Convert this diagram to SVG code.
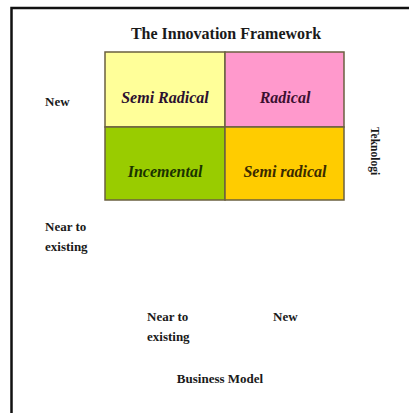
<svg xmlns="http://www.w3.org/2000/svg" width="409" height="413" viewBox="0 0 409 413">
<style>
.cell{stroke:#6b6040;stroke-width:1.5}
.cl{font-family:"Liberation Serif","Times New Roman",serif;font-weight:bold;font-style:italic;font-size:16px;text-anchor:middle}
.lb{font-family:"Liberation Serif","Times New Roman",serif;font-weight:bold;font-size:13px;fill:#1a1a1a}
</style>
<rect width="409" height="413" fill="#fff"/>
<path d="M11.5 413 V8 H409" fill="none" stroke="#111" stroke-width="2.5"/>
<g id="title"><text x="226" y="39" class="lb" style="font-size:16px;text-anchor:middle">The Innovation Framework</text></g>
<g id="semi-radical-top"><rect class="cell" x="105" y="52" width="120" height="75" fill="#ffff99"/><text class="cl" x="165" y="103" fill="#2b1030">Semi Radical</text></g>
<g id="radical"><rect class="cell" x="225" y="52" width="119" height="75" fill="#ff99cc"/><text class="cl" x="285" y="103" fill="#3b1030">Radical</text></g>
<g id="incemental"><rect class="cell" x="105" y="127" width="120" height="73" fill="#99cc00"/><text class="cl" x="165" y="177" fill="#1a3300">Incemental</text></g>
<g id="semi-radical-bottom"><rect class="cell" x="225" y="127" width="119" height="73" fill="#ffcc00"/><text class="cl" x="285" y="177" fill="#3a2a00">Semi radical</text></g>
<g id="y-new"><text class="lb" x="45" y="106">New</text></g>
<g id="y-near"><text class="lb" x="45" y="231">Near to</text><text class="lb" x="45" y="251">existing</text></g>
<g id="y-axis"><text class="lb" style="font-size:11.5px" transform="translate(371,127) rotate(90)">Teknologi</text></g>
<g id="x-near"><text class="lb" x="147" y="321">Near to</text><text class="lb" x="147" y="341">existing</text></g>
<g id="x-new"><text class="lb" x="273" y="321">New</text></g>
<g id="x-axis"><text class="lb" x="220" y="383" style="text-anchor:middle">Business Model</text></g>
<g id="connectors"></g>
</svg>
